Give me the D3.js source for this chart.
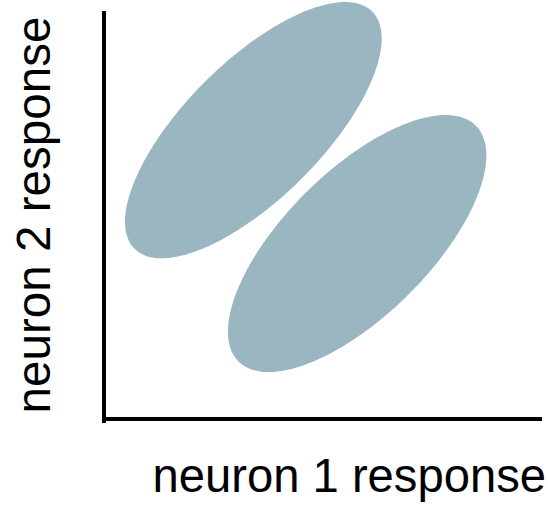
<!DOCTYPE html>
<html>
<head>
<meta charset="utf-8">
<script src="https://cdn.jsdelivr.net/npm/d3@7"></script>
<style>
  html, body { margin: 0; padding: 0; background: #ffffff; }
  svg { display: block; }
  text { font-family: "Liberation Sans", Arial, Helvetica, sans-serif; fill: #000; }
</style>
</head>
<body>
<script>
// Two response clusters in the joint space of two neurons
const clusterNames = ["stimulus A", "stimulus B"];
const centerX = [3.41, 5.78];   // neuron 1 mean response
const centerY = [7.08, 4.30];   // neuron 2 mean response
const spreadX = [2.93, 2.95];   // half-extent along neuron 1
const spreadY = [3.14, 3.15];   // half-extent along neuron 2
const correlation = [0.715, 0.685];

const xLabel = "neuron 1 response";
const yLabel = "neuron 2 response";

const width = 548, height = 510;
const fillColor = "#9ab7c1";

const x = d3.scaleLinear().domain([0, 10]).range([104, 542]);
const y = d3.scaleLinear().domain([0, 10]).range([419, 11]);

const svg = d3.select("body").append("svg")
  .attr("width", width)
  .attr("height", height);

// Outline of each correlated cluster, traced in data space
const angles = d3.range(0, 360, 2).map(d => d * Math.PI / 180);
const outline = d3.line()
  .x(p => x(p[0]))
  .y(p => y(p[1]))
  .curve(d3.curveCardinalClosed);

const clusters = clusterNames.map((name, i) => {
  const r = correlation[i];
  const pts = angles.map(t => [
    centerX[i] + spreadX[i] * Math.cos(t),
    centerY[i] + spreadY[i] * (r * Math.cos(t) + Math.sqrt(1 - r * r) * Math.sin(t))
  ]);
  return { name, pts };
});

svg.append("g").selectAll("path")
  .data(clusters)
  .join("path")
  .attr("d", d => outline(d.pts))
  .attr("fill", fillColor);

// Axes: plain bold lines without ticks
svg.append("line")
  .attr("x1", x(0)).attr("x2", x(0))
  .attr("y1", y(10)).attr("y2", y(0) + 4)
  .attr("stroke", "#000").attr("stroke-width", 4);

svg.append("line")
  .attr("x1", x(0) + 2).attr("x2", x(10))
  .attr("y1", y(0)).attr("y2", y(0))
  .attr("stroke", "#000").attr("stroke-width", 4);

svg.append("text")
  .attr("x", 546)
  .attr("y", 492)
  .attr("text-anchor", "end")
  .style("font-size", "47.2px")
  .text(xLabel);

svg.append("text")
  .attr("transform", "translate(50,215) rotate(-90)")
  .attr("text-anchor", "middle")
  .style("font-size", "47.6px")
  .text(yLabel);
</script>
</body>
</html>
